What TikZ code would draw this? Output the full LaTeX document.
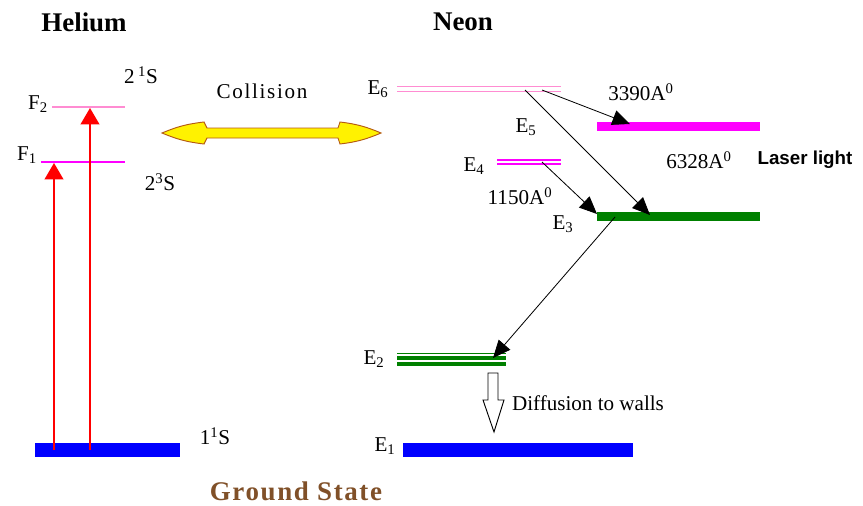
\documentclass[tikz,border=0pt]{standalone}
\usepackage{fontspec}
\setmainfont{Liberation Serif}
\newfontfamily\arialfont{Liberation Sans}
\usepackage{tikz}
\usetikzlibrary{arrows.meta}
\definecolor{lightpink}{RGB}{255,140,210}
\definecolor{levelmagenta}{RGB}{255,0,255}
\definecolor{levelgreen}{RGB}{0,128,0}
\definecolor{groundbrown}{RGB}{128,80,40}
\definecolor{collisionedge}{RGB}{180,90,20}

\begin{document}
\begin{tikzpicture}
      [x=0.03cm, y=-0.03cm,
       every node/.style={inner sep=0pt, font=\fontsize{18}{20}\selectfont},
       title/.style={font=\fontsize{23}{26}\selectfont\bfseries},
       bar/.style={line width=7.5pt},
       ground/.style={line width=11.5pt, blue},
       pump/.style={red, line width=1.5pt, -{Triangle[length=14pt,width=16pt]}},
       decay/.style={black, line width=0.7pt, -{Triangle[length=15pt,width=13pt]}}]
      \useasboundingbox (0,0) rectangle (863,506);

      % titles
      \node (helium) [title] at (84, 22) {Helium};
      \node (neon) [title] at (463, 22) {Neon};
      \node (groundstate) [title, text=groundbrown,
        font=\fontsize{23}{26}\selectfont\bfseries\addfontfeature{LetterSpace=6}] at (296, 491) {Ground State};

      % helium levels
      \draw [ground] (35, 450) -- (180, 450);
      \draw [levelmagenta, line width=1pt] (41, 162) -- (125, 162);
      \draw [lightpink, line width=1pt] (52, 107) -- (125, 107);
      \draw [pump] (54, 450) -- (54, 163);
      \draw [pump] (90, 450) -- (90, 108);

      \node (f2) [] at (38, 104) {F\textsubscript{2}};
      \node (f1) [] at (27, 155) {F\textsubscript{1}};
      \node (s21) [] at (141, 75) {2\,\textsuperscript{1}S};
      \node (s23) [] at (160, 182) {2\textsuperscript{3}S};
      \node (s11) [] at (215, 436) {1\textsuperscript{1}S};

      % collision
      \node (collision) [font=\fontsize{18}{20}\selectfont\addfontfeature{LetterSpace=8}] at (262, 91) {Collision};
      \draw [fill=yellow, draw=collisionedge, line width=0.8pt]
        (162, 133) to[bend left=8] (204, 122) -- (207, 128) -- (338, 128) -- (340, 122)
        to[bend left=8] (381, 133) to[bend left=8] (340, 144) -- (338, 138) -- (207, 138)
        -- (204, 144) to[bend left=8] cycle;

      % neon levels
      \draw [lightpink, line width=1pt] (397, 86.5) -- (561, 86.5);
      \draw [lightpink, line width=1pt] (397, 91.5) -- (561, 91.5);
      \draw [levelmagenta, bar] (597, 126.5) -- (760, 126.5);
      \draw [levelmagenta, line width=1pt] (497, 160) -- (561, 160);
      \draw [levelmagenta, line width=1pt] (497, 164) -- (561, 164);
      \draw [levelgreen, bar] (597, 216.5) -- (760, 216.5);
      \draw [levelgreen, line width=1.2pt] (397, 353.5) -- (506, 353.5);
      \draw [levelgreen, line width=3.5pt] (397, 358) -- (506, 358);
      \draw [levelgreen, line width=3.5pt] (397, 364) -- (506, 364);
      \draw [ground] (403, 450) -- (633, 450);

      \node (e6) [] at (378, 89) {E\textsubscript{6}};
      \node (e5) [] at (526, 127) {E\textsubscript{5}};
      \node (e4) [] at (474, 166) {E\textsubscript{4}};
      \node (e3) [] at (563, 224) {E\textsubscript{3}};
      \node (e2) [] at (374, 359) {E\textsubscript{2}};
      \node (e1) [] at (385, 446) {E\textsubscript{1}};

      \node (w3390) [] at (641, 92) {3390A\textsuperscript{0}};
      \node (w1150) [] at (520, 196) {1150A\textsuperscript{0}};
      \node (w6328) [] at (699, 160) {6328A\textsuperscript{0}};
      \node (laser) [font=\fontsize{16}{18}\selectfont\arialfont\bfseries] at (805, 160) {Laser light};
      \node (diffusion) [] at (588, 403) {Diffusion to walls};

      % transitions
      \coordinate (e6a) at (542, 90);
      \coordinate (e6b) at (525, 90);
      \coordinate (e5t) at (630, 124);
      \coordinate (e4a) at (542, 162);
      \coordinate (e3l) at (597, 214);
      \coordinate (e3m) at (650, 215);
      \coordinate (e3s) at (615, 217);
      \coordinate (e2t) at (493, 358);

      \draw [decay] (e6a) -- (e5t);
      \draw [decay] (e6b) -- (e3m);
      \draw [decay] (e4a) -- (e3l);
      \draw [decay] (e3s) -- (e2t);

      % diffusion arrow
      \draw [fill=white, line width=0.8pt]
        (488, 373) -- (498, 373) -- (498, 400) -- (504, 400) -- (494, 432)
        -- (483, 400) -- (488, 400) -- cycle;
    \end{tikzpicture}
\end{document}
